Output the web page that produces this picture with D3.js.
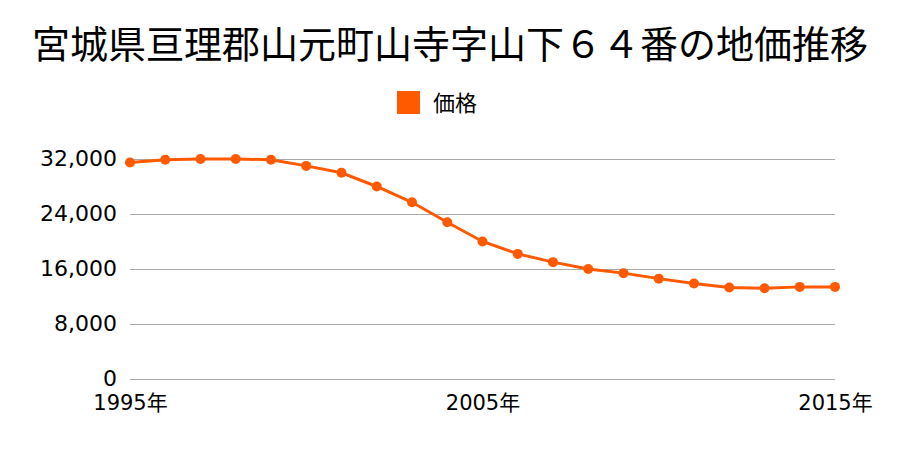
<!DOCTYPE html>
<html><head><meta charset="utf-8">
<script src="https://cdn.jsdelivr.net/npm/d3@7"></script>
<style>body{margin:0;background:#fff}svg{display:block}</style>
</head><body>
<svg id="c" width="900" height="450"></svg>
<script>
const title = "宮城県亘理郡山元町山寺字山下６４番の地価推移";
const seriesName = "価格";
const years = [1995,1996,1997,1998,1999,2000,2001,2002,2003,2004,2005,2006,2007,2008,2009,2010,2011,2012,2013,2014,2015];
const prices = [31500,31900,32000,32000,31900,31000,30000,28000,25700,22800,20000,18200,17000,16000,15400,14600,13900,13300,13200,13400,13400];
const yTicks = [0,8000,16000,24000,32000];
const xTicks = [1995,2005,2015];

const svg = d3.select("#c");
const x = d3.scaleLinear().domain([1995,2015]).range([130,835]);
const y = d3.scaleLinear().domain([0,32000]).range([379,159]);
const color = "#ff5a00";
const cjkFont = '"Noto Sans CJK JP",sans-serif';
const numFont = '"DejaVu Sans","Noto Sans CJK JP",sans-serif';

svg.append("text").attr("x",450).attr("y",58).attr("text-anchor","middle")
  .style("font-family",cjkFont).attr("font-size",38).attr("fill","#000").text(title);

svg.append("rect").attr("x",397).attr("y",91).attr("width",23).attr("height",23).attr("fill",color);
svg.append("text").attr("x",433).attr("y",111).style("font-family",cjkFont)
  .attr("font-size",22).attr("fill","#000").text(seriesName);

const yAxis = d3.axisLeft(y).tickValues(yTicks).tickSize(-(835-130)).tickPadding(13)
  .tickFormat(d3.format(","));
const gy = svg.append("g").attr("transform","translate(130,0)").call(yAxis);
gy.select(".domain").remove();
gy.selectAll(".tick line").attr("stroke","#aaa").attr("stroke-width",1);
gy.selectAll(".tick text").style("font-family",numFont).attr("font-size",22).attr("fill","#000").attr("dy","0.3em");

const xAxis = d3.axisBottom(x).tickValues(xTicks).tickSize(0).tickPadding(16).tickFormat(d=>d+"年");
const gx = svg.append("g").attr("transform","translate(0,379)").call(xAxis);
gx.select(".domain").remove();
gx.selectAll(".tick text").style("font-family",numFont).attr("font-size",21).attr("fill","#000");

const data = years.map((yr,i)=>({yr,v:prices[i]}));
svg.append("path").datum(data).attr("fill","none").attr("stroke",color).attr("stroke-width",3)
  .attr("d",d3.line().x(d=>x(d.yr)).y(d=>y(d.v)));
svg.selectAll("circle.pt").data(data).join("circle").attr("class","pt")
  .attr("cx",d=>x(d.yr)).attr("cy",d=>y(d.v)).attr("r",5).attr("fill",color);
</script>
</body></html>
